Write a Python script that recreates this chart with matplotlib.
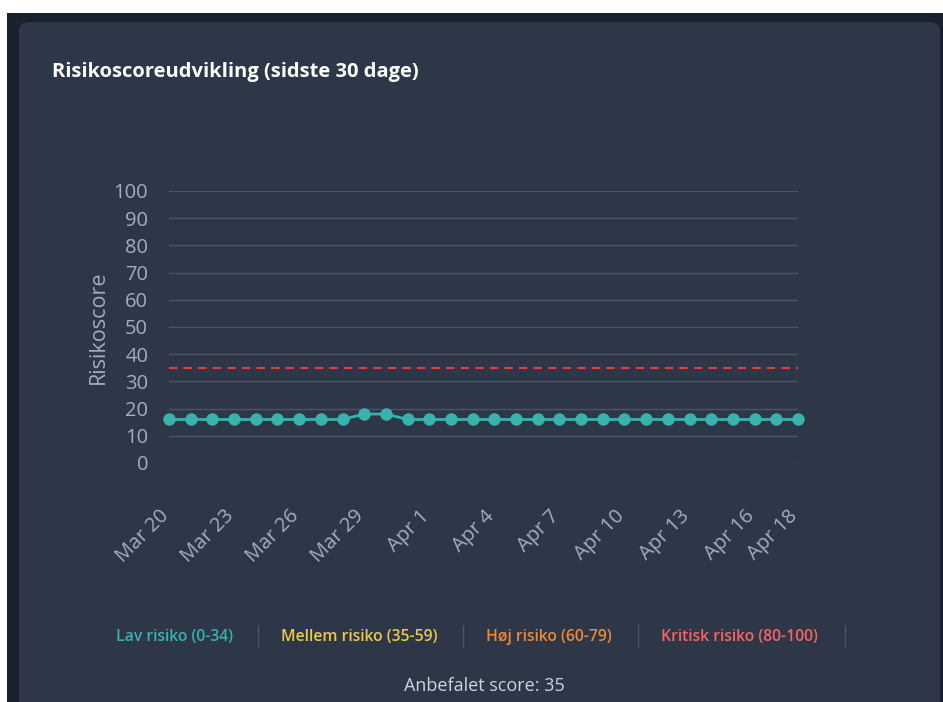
import numpy as np
import pandas as pd
import matplotlib.pyplot as plt
from matplotlib.patches import FancyBboxPatch, Rectangle
from matplotlib.lines import Line2D
from matplotlib.transforms import ScaledTranslation

# Data
dates = pd.date_range("2024-03-20", "2024-04-18", freq="D")
labels = [d.strftime("%b ") + str(d.day) for d in dates]
scores = [16, 16, 16, 16, 16, 16, 16, 16, 16, 18,
          18, 16, 16, 16, 16, 16, 16, 16, 16, 16,
          16, 16, 16, 16, 16, 16, 16, 16, 16, 16]
recommended = 35
tick_idx = list(range(0, 30, 3)) + [29]

legend_items = ["Lav risiko (0-34)", "Mellem risiko (35-59)",
                "Høj risiko (60-79)", "Kritisk risiko (80-100)"]
legend_colors = ["#38b2ac", "#ecc94b", "#ed8936", "#f56565"]

W, H = 943, 702
fig = plt.figure(figsize=(W / 100, H / 100), dpi=100)
fig.patch.set_facecolor("white")

# page background + card
fig.add_artist(Rectangle((7 / W, 0), 1, 1 - 13 / H, transform=fig.transFigure,
                         facecolor="#1a202c", edgecolor="none", zorder=0))
fig.add_artist(FancyBboxPatch((19 / W, -0.05), (W - 22) / W, 1 - 22 / H + 0.05,
                              boxstyle="round,pad=0,rounding_size=0.012",
                              transform=fig.transFigure, facecolor="#2d3748",
                              edgecolor="none", zorder=0))

fig.text(52 / W, 1 - 72 / H, "Risikoscoreudvikling (sidste 30 dage)",
         color="white", fontsize=14.5, fontweight="bold", family="Open Sans",
         va="center", ha="left")

ax = fig.add_axes([169 / W, 239 / H, (798 - 169) / W, (463 - 191) / H])
ax.set_facecolor("none")
x = np.arange(len(scores))
ax.plot(x, scores, color="#38b2ac", lw=2, marker="o", ms=9,
        markeredgewidth=0, clip_on=False, zorder=3)
ax.axhline(recommended, color="#e53e3e", lw=1.5, dashes=(4, 3), zorder=2)

ax.set_xlim(0, len(scores) - 1)
ax.set_ylim(0, 100)
ax.set_yticks(range(0, 101, 10))
ax.grid(axis="y", color="#4a5568", lw=1)
ax.set_axisbelow(True)
for s in ax.spines.values():
    s.set_visible(False)

ax.tick_params(axis="x", length=0, pad=31)
ax.tick_params(axis="y", length=0, pad=15)
ax.set_xticks(tick_idx)
ax.set_xticklabels([labels[i] for i in tick_idx], rotation=45, ha="right",
                   va="top", rotation_mode="anchor", family="Open Sans",
                   fontsize=14.5, color="#a0aec0")
# nudge the rotated date labels a bit to the left
shift = ScaledTranslation(-10 / 100, 0, fig.dpi_scale_trans)
for t in ax.get_xticklabels():
    t.set_transform(t.get_transform() + shift)
for t in ax.get_yticklabels():
    t.set_family("Open Sans")
    t.set_fontsize(14.5)
    t.set_color("#a0aec0")
ax.set_ylabel("Risikoscore", family="Open Sans", fontsize=15.5, color="#a0aec0",
              labelpad=3)

# custom legend row
text_x = [116, 281, 486, 661]
sep_x = [258, 463, 638, 845]
for tx, lab, col in zip(text_x, legend_items, legend_colors):
    fig.text(tx / W, 1 - 637 / H, lab, color=col, fontsize=11.3,
             fontweight="semibold", family="Open Sans", va="center", ha="left")
for sx in sep_x:
    fig.add_artist(Line2D([sx / W, sx / W], [1 - 625 / H, 1 - 647 / H],
                          transform=fig.transFigure, color="#4a5568", lw=1))

fig.text(484 / W, 1 - 686 / H, "Anbefalet score: " + str(recommended),
         color="#cbd5e0", fontsize=13, family="Open Sans", va="center",
         ha="center")

fig.savefig("out.png", dpi=100, facecolor=fig.get_facecolor())
